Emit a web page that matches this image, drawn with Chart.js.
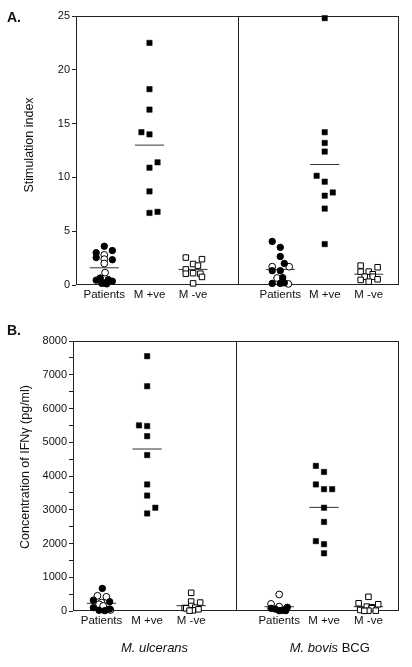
<!DOCTYPE html>
<html><head><meta charset="utf-8">
<script src="https://cdn.jsdelivr.net/npm/chart.js@4.4.1/dist/chart.umd.min.js"></script>
<style>
html,body{margin:0;padding:0;background:#fff;width:412px;height:667px;overflow:hidden}
canvas{position:absolute;left:0}
#cA{top:0}
#cB{top:310px}
</style></head><body>
<canvas id="cA" width="412" height="305"></canvas>
<canvas id="cB" width="412" height="357"></canvas>
<script>
// ---------- categories / labels ----------
const categories = ["Patients", "M +ve", "M -ve"];
const antigens = ["M. ulcerans", "M. bovis BCG"];
const yTitleA = "Stimulation index";
const yTitleB = "Concentration of IFNγ (pg/ml)";
const yTicksA = [0, 5, 10, 15, 20, 25];
const yTicksB = [0, 1000, 2000, 3000, 4000, 5000, 6000, 7000, 8000];

// ---------- Panel A: stimulation index ----------
// M. ulcerans
const siUlcPatFilled = [3.6, 3.0, 2.55, 3.2, 2.35, 0.45, 0.65, 0.2, 0.5, 0.35, 0.15, 0.1];
const siUlcPatOpen   = [2.8, 2.4, 2.0, 1.15];
const siUlcMpos      = [22.5, 18.2, 16.3, 14.2, 14.0, 11.4, 10.9, 8.7, 6.8, 6.7];
const siUlcMneg      = [2.55, 2.4, 1.95, 1.8, 1.45, 1.1, 1.05, 1.05, 0.75, 0.15];
// M. bovis BCG
const siBcgPatFilled = [4.05, 3.5, 2.65, 2.0, 1.33, 1.33, 0.68, 0.15, 0.15, 0.2];
const siBcgPatOpen   = [1.7, 1.7, 0.65, 0.1];
const siBcgMpos      = [24.8, 14.2, 13.2, 12.4, 10.15, 9.6, 8.6, 8.3, 7.1, 3.8];
const siBcgMneg      = [1.8, 1.65, 1.24, 1.24, 1.0, 0.77, 0.77, 0.53, 0.47, 0.31];
// group means (horizontal bars): ulc Pat, ulc M+, ulc M-, bcg Pat, bcg M+, bcg M-
const siMeans = [1.6, 13.0, 1.45, 1.45, 11.2, 1.0];

// ---------- Panel B: IFN-gamma (pg/ml) ----------
const ifnUlcPatFilled = [670, 320, 275, 100, 60, 20, 10];
const ifnUlcPatOpen   = [450, 420, 250, 200, 150, 30];
const ifnUlcMpos      = [7550, 6660, 5500, 5480, 5180, 4620, 3750, 3420, 3060, 2890];
const ifnUlcMneg      = [540, 280, 250, 150, 100, 90, 80, 50, 20, 10];
const ifnBcgPatFilled = [110, 80, 60, 20, 10, 10];
const ifnBcgPatOpen   = [490, 210, 130, 30];
const ifnBcgMpos      = [4300, 4120, 3750, 3610, 3610, 3060, 2640, 2070, 1980, 1710];
const ifnBcgMneg      = [420, 230, 200, 130, 110, 80, 30, 10, 10, 5];
const ifnMeans = [228, 4800, 157, 127, 3070, 127];

// ---------- column-scatter jitter slots (side-by-side placement of tied points) ----------
const jSiUlcPatFilled = [0, -1, -1, 1, 1, -1, -0.5, 0, 0.5, 1, -0.3, 0.3];
const jSiUlcPatOpen   = [0, 0, 0, 0.1];
const jSiUlcMpos      = [0, 0, 0, -1, 0, 1, 0, 0, 1, 0];
const jSiUlcMneg      = [-0.9, 1.1, 0, 0.6, -0.9, 0, -0.9, 0.9, 1.1, 0];
const jSiBcgPatFilled = [-1, 0, 0, 0.5, -1, 0, 0.3, -1, 0, 0.5];
const jSiBcgPatOpen   = [-1, 1.1, -0.4, 1.0];
const jSiBcgMpos      = [0, 0, 0, 0, -1, 0, 1, 0, 0, 0];
const jSiBcgMneg      = [-1, 1.1, 0, -1, 0.5, -0.5, 0.5, 1.1, -1, 0];
const jIfnUlcPatFilled = [0.1, -1, 1, -1, 1, -0.3, 0.4];
const jIfnUlcPatOpen   = [-0.5, 0.6, 0, -0.3, 0.2, 1.1];
const jIfnUlcMpos      = [0, 0, -1, 0, 0, 0, 0, 0, 1, 0];
const jIfnUlcMneg      = [0, 0, 1.1, 0, 0.5, -0.8, -0.6, 0.9, 0.2, -0.2];
const jIfnBcgPatFilled = [1, -1, -0.5, 0.3, 0, 0.8];
const jIfnBcgPatOpen   = [0, -1, 0, 0.6];
const jIfnBcgMpos      = [-1, 0, -1, 0, 1, 0, 0, -1, 0, 0];
const jIfnBcgMneg      = [0, -1.2, 1.2, -0.2, 0.4, 0.4, -1, 0, 0.9, -0.5];

// ---------- layout constants ----------
const CAT_X = [0.7, 1.82, 2.9, 5.06, 6.16, 7.25];   // category centres on x scale (0..8)
const X_MAX = 8, DIVIDER = 4, JIT = 0.2, MEAN_HALF = 0.36;
const ANTIGEN_X = [2.0, 6.3];
const FONT = '"Liberation Sans", Arial, Helvetica, sans-serif';

const STYLES = {
  filledCircle: {pointStyle: 'circle', pointRadius: 3.2, backgroundColor: '#000', borderColor: '#000', borderWidth: 1},
  openCircle:   {pointStyle: 'circle', pointRadius: 3.4, backgroundColor: '#fff', borderColor: '#000', borderWidth: 1},
  filledSquare: {pointStyle: 'rect', pointRadius: 3.8, backgroundColor: '#000', borderColor: '#000', borderWidth: 0.5},
  openSquare:   {pointStyle: 'rect', pointRadius: 3.9, backgroundColor: '#fff', borderColor: '#000', borderWidth: 1}
};

function groupDataset(values, jitter, cat, style) {
  return Object.assign({
    data: values.map((v, i) => ({x: CAT_X[cat] + jitter[i] * JIT, y: v})),
    showLine: false, clip: false, pointHoverRadius: 0
  }, STYLES[style]);
}
function meanDataset(m, cat) {
  return {
    data: [{x: CAT_X[cat] - MEAN_HALF, y: m}, {x: CAT_X[cat] + MEAN_HALF, y: m}],
    showLine: true, pointRadius: 0, borderColor: '#333', borderWidth: 1, clip: false
  };
}

const decorPlugin = {
  id: 'decor',
  beforeDatasetsDraw(chart) {
    const {ctx, chartArea: {left, right, top, bottom}, scales: {x}} = chart;
    ctx.save();
    ctx.strokeStyle = '#222';
    ctx.lineWidth = 1;
    const L = Math.round(left) + 0.5, R = Math.round(right) - 0.5;
    const T = Math.round(top) + 0.5, B = Math.round(bottom) - 0.5;
    ctx.strokeRect(L, T, R - L, B - T);
    const dx = Math.round(x.getPixelForValue(DIVIDER)) + 0.5;
    ctx.beginPath(); ctx.moveTo(dx, T); ctx.lineTo(dx, B); ctx.stroke();
    ctx.restore();
  },
  afterDraw(chart, args, o) {
    const {ctx, scales: {x}} = chart;
    ctx.save();
    ctx.fillStyle = '#111';
    // y title
    ctx.translate(o.titleX, o.titleY);
    ctx.rotate(-Math.PI / 2);
    ctx.font = '12.5px ' + FONT;
    ctx.textAlign = 'center';
    ctx.textBaseline = 'middle';
    ctx.fillText(o.title, 0, 0);
    ctx.setTransform(1, 0, 0, 1, 0, 0);
    // panel letter
    ctx.font = 'bold 14px ' + FONT;
    ctx.textAlign = 'left';
    ctx.fillText(o.letter, o.letterX, o.letterY);
    // antigen labels
    if (o.antigenY !== undefined) {
      antigens.forEach((s, i) => {
        const w = s.split(' ');
        const ital = w.slice(0, 2).join(' ');
        const rest = w.length > 2 ? ' ' + w.slice(2).join(' ') : '';
        ctx.font = 'italic 13px ' + FONT;
        const w1 = ctx.measureText(ital).width;
        ctx.font = '13px ' + FONT;
        const w2 = ctx.measureText(rest).width;
        let cx = x.getPixelForValue(ANTIGEN_X[i]) - (w1 + w2) / 2;
        ctx.textAlign = 'left';
        ctx.font = 'italic 13px ' + FONT;
        ctx.fillText(ital, cx, o.antigenY);
        ctx.font = '13px ' + FONT;
        ctx.fillText(rest, cx + w1, o.antigenY);
      });
    }
    ctx.restore();
  }
};

function makeChart(id, groups, means, yTicks, minor, dims, decor) {
  const datasets = [];
  groups.forEach(g => datasets.push(groupDataset(g[0], g[1], g[2], g[3])));
  means.forEach((m, i) => datasets.push(meanDataset(m, i)));
  const yMin = yTicks[0], yMax = yTicks[yTicks.length - 1];
  let allTicks = yTicks.slice();
  if (minor) {
    for (let i = 0; i < yTicks.length - 1; i++) allTicks.push((yTicks[i] + yTicks[i + 1]) / 2);
    allTicks.sort((a, b) => a - b);
  }
  return new Chart(document.getElementById(id), {
    type: 'scatter',
    data: {datasets},
    options: {
      responsive: false, animation: false, devicePixelRatio: 1,
      layout: {padding: {left: 0, right: dims.right, top: dims.top, bottom: 0}},
      plugins: {legend: {display: false}, tooltip: {enabled: false}, decor},
      scales: {
        x: {
          type: 'linear', min: 0, max: X_MAX,
          afterBuildTicks: s => { s.ticks = CAT_X.map(v => ({value: v})); },
          afterFit: s => { s.height = dims.xh; },
          grid: {display: false, drawTicks: false, tickLength: 0},
          border: {display: false},
          ticks: {
            autoSkip: false, maxRotation: 0, padding: 3, color: '#111',
            font: {family: FONT, size: 11.5},
            callback: (v, i) => categories[i % 3]
          }
        },
        y: {
          type: 'linear', min: yMin, max: yMax,
          afterBuildTicks: s => { s.ticks = allTicks.map(v => ({value: v})); },
          afterFit: s => { s.width = dims.yw; },
          grid: {drawOnChartArea: false, drawTicks: true, tickLength: 4, color: '#222'},
          border: {display: false},
          ticks: {
            padding: 2, color: '#111', font: {family: FONT, size: 11},
            callback: v => (yTicks.indexOf(v) >= 0 ? String(v) : '')
          }
        }
      }
    },
    plugins: [decorPlugin]
  });
}

makeChart('cA', [
  [siUlcPatFilled, jSiUlcPatFilled, 0, 'filledCircle'],
  [siUlcPatOpen, jSiUlcPatOpen, 0, 'openCircle'],
  [siUlcMpos, jSiUlcMpos, 1, 'filledSquare'],
  [siUlcMneg, jSiUlcMneg, 2, 'openSquare'],
  [siBcgPatFilled, jSiBcgPatFilled, 3, 'filledCircle'],
  [siBcgPatOpen, jSiBcgPatOpen, 3, 'openCircle'],
  [siBcgMpos, jSiBcgMpos, 4, 'filledSquare'],
  [siBcgMneg, jSiBcgMneg, 5, 'openSquare']
], siMeans, yTicksA, false,
  {right: 13, top: 16, xh: 20, yw: 76},
  {title: yTitleA, titleX: 30, titleY: 145, letter: 'A.', letterX: 7, letterY: 18});

makeChart('cB', [
  [ifnUlcPatFilled, jIfnUlcPatFilled, 0, 'filledCircle'],
  [ifnUlcPatOpen, jIfnUlcPatOpen, 0, 'openCircle'],
  [ifnUlcMpos, jIfnUlcMpos, 1, 'filledSquare'],
  [ifnUlcMneg, jIfnUlcMneg, 2, 'openSquare'],
  [ifnBcgPatFilled, jIfnBcgPatFilled, 3, 'filledCircle'],
  [ifnBcgPatOpen, jIfnBcgPatOpen, 3, 'openCircle'],
  [ifnBcgMpos, jIfnBcgMpos, 4, 'filledSquare'],
  [ifnBcgMneg, jIfnBcgMneg, 5, 'openSquare']
], ifnMeans, yTicksB, true,
  {right: 13, top: 31, xh: 56, yw: 73},
  {title: yTitleB, titleX: 26, titleY: 157, letter: 'B.', letterX: 7, letterY: 21.5, antigenY: 338});
</script>
</body></html>
